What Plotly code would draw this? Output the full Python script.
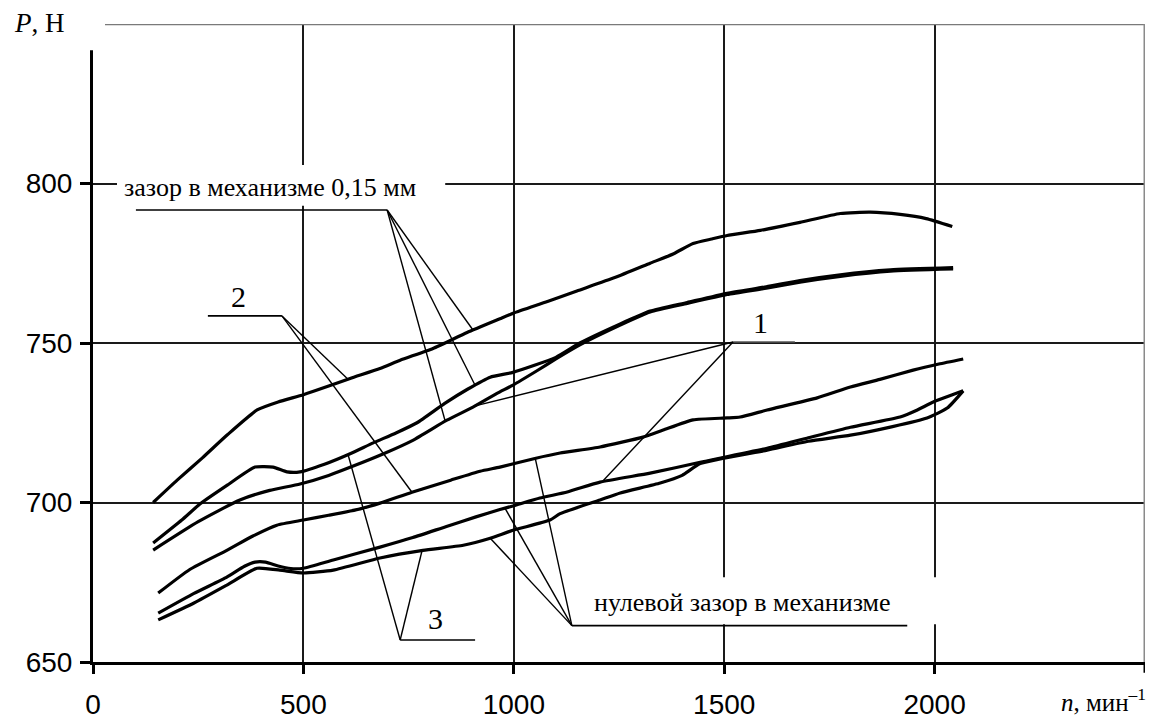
import numpy as np
import plotly.graph_objects as go

# --- Data: force P (N) versus speed n (min^-1) ---
# gap in mechanism 0.15 mm
A_n = [143, 200, 260, 320, 390, 440, 500, 560, 611, 682, 730, 808, 889, 967, 1000,
       1080, 1150, 1240, 1324, 1380, 1426, 1470, 1507, 1586, 1680, 1776, 1847, 1918, 1980, 2042]
A_P = [700, 707, 714, 721.3, 729, 731.5, 733.8, 736.5, 738.9, 742, 744.6, 748.3, 753.3, 757.6, 759.4,
       763, 766.3, 770.5, 775, 778, 781.2, 782.6, 783.7, 785.3, 787.8, 790.6, 791, 790.3, 789, 786.5]

B1_n = [143, 211, 254, 320, 385, 428, 461, 492, 550, 611, 666, 720, 770, 835, 890, 944, 998,
        1100, 1157, 1253, 1324, 1412, 1507, 1600, 1680, 1776, 1895, 2044]
B1_P = [687.3, 694.5, 699.5, 705.5, 711.1, 711.1, 709.6, 709.6, 712, 715.3, 718.7, 721.8, 725, 731, 735.5, 739.3, 740.8,
        745.5, 750, 756, 760, 762.7, 765.6, 767.6, 769.6, 771.4, 772.9, 773.6]

B2_n = [143, 250, 349, 420, 492, 560, 620, 689, 760, 841, 903, 960, 998, 1055, 1100, 1157,
        1253, 1324, 1412, 1507, 1600, 1680, 1776, 1895, 2044]
B2_P = [685.1, 694, 700.8, 703.8, 705.8, 708.5, 711.5, 715.2, 719.5, 725.8, 729.9, 734.2, 736.8, 741.3, 745, 749.4,
        755.6, 759.7, 762.4, 765.2, 767.2, 769.1, 770.9, 772.5, 773.2]

# zero gap in mechanism
C_n = [155, 230, 318, 380, 437, 500, 560, 635, 682, 758, 850, 920, 967, 1050, 1110, 1205, 1307,
       1355, 1426, 1507, 1538, 1602, 1721, 1800, 1870, 1949, 2010, 2068]
C_P = [671.6, 679, 685, 689.5, 692.9, 694.5, 696, 698, 699.8, 703.2, 707, 709.8, 711.1, 713.8, 715.5, 717.4, 720.5,
       722.7, 725.9, 726.5, 726.8, 729, 732.8, 736.2, 738.6, 741.5, 743.4, 745]

D1_n = [155, 240, 318, 360, 385, 410, 440, 470, 500, 571, 682, 760, 840, 910, 967, 1000, 1062,
        1127, 1205, 1324, 1443, 1602, 1700, 1800, 1918, 1959, 1997, 2068]
D1_P = [665.3, 671.5, 676.6, 680, 681.3, 681.3, 680.1, 679.3, 679.4, 682, 686, 689, 692.5, 695.5, 697.8, 699, 701.4,
        703.3, 706.4, 709.2, 712.6, 717, 720.3, 723.6, 726.8, 729, 731.5, 735]

D2_n = [155, 240, 318, 390, 444, 500, 571, 682, 784, 880, 944, 998, 1086, 1110, 1205, 1253,
        1348, 1400, 1443, 1602, 1700, 1800, 1900, 1982, 2030, 2068]
D2_P = [663.2, 668.5, 674.1, 679.4, 678.8, 677.9, 678.8, 682.6, 685, 686.6, 688.8, 691.3, 694.5, 696.5, 700.8, 703,
        706.1, 708.5, 712.2, 716.4, 719.2, 721.1, 723.8, 726.5, 729.6, 735]

X_TICKS = [0, 500, 1000, 1500, 2000]
X_TICKTEXT = ["0", "500", "1000", "1500", "2000"]
X_MAX = 2500
Y_TICKS = [650, 700, 750, 800]
Y_TICKTEXT = ["650", "700", "750", "800"]
Y_MAX = 850

curves = {
    "A": (A_n, A_P), "B1": (B1_n, B1_P), "B2": (B2_n, B2_P),
    "C": (C_n, C_P), "D1": (D1_n, D1_P), "D2": (D2_n, D2_P),
}


def on_curve(name, n):
    xs, ys = curves[name]
    return float(np.interp(n, xs, ys))


fig = go.Figure()
for name, (xs, ys) in curves.items():
    fig.add_trace(go.Scatter(
        x=xs, y=ys, mode="lines", name=name,
        line=dict(color="black", width=3.2, shape="spline", smoothing=0.5),
        hoverinfo="skip",
    ))

SERIF = "Liberation Serif, Times New Roman, serif"
shapes = []

# white backgrounds behind the two captions
shapes.append(dict(type="rect", xref="x", yref="y", x0=57, x1=837, y0=793.0, y1=805.8,
                   fillcolor="white", line=dict(width=0), layer="above"))
shapes.append(dict(type="rect", xref="x", yref="y", x0=1110, x1=2020, y0=661.8, y1=676.6,
                   fillcolor="white", line=dict(width=0), layer="above"))
# frame: gray top and right edges, cut corner at the top-left
shapes.append(dict(type="line", xref="x", yref="y", x0=28, x1=X_MAX, y0=Y_MAX, y1=Y_MAX,
                   line=dict(color="#7a7a7a", width=2.5), layer="above"))
shapes.append(dict(type="line", xref="x", yref="y", x0=X_MAX, x1=X_MAX, y0=650, y1=Y_MAX,
                   line=dict(color="#8a8a8a", width=3), layer="above"))
shapes.append(dict(type="rect", xref="paper", yref="paper", x0=-0.1, x1=0.0114, y0=0.959, y1=1.1,
                   fillcolor="white", line=dict(width=0), layer="above"))
# tick mark at the right end of the n axis
shapes.append(dict(type="line", xref="x", yref="paper", x0=X_MAX, x1=X_MAX, y0=0, y1=-0.017,
                   line=dict(color="black", width=3), layer="above"))


def leader(apex, x_end, targets, color="black"):
    ax, ay = apex
    shapes.append(dict(type="line", xref="x", yref="y", x0=ax, x1=x_end, y0=ay, y1=ay,
                       line=dict(color=color, width=1.6), layer="above"))
    for name, n in targets:
        shapes.append(dict(type="line", xref="x", yref="y", x0=ax, y0=ay,
                           x1=n, y1=on_curve(name, n),
                           line=dict(color="black", width=1.4), layer="above"))


leader((699, 791.7), 102, [("A", 903), ("B1", 908), ("B2", 837)])
leader((449, 758.5), 273, [("A", 606), ("C", 758)])
leader((1521, 750.3), 1668, [("B2", 908), ("D1", 1210)], color="#555555")
leader((730, 656.9), 908, [("B1", 606), ("D2", 782)])
leader((1138, 661.4), 1935, [("D2", 944), ("D1", 979), ("C", 1051)])

annotations = [
    dict(text="зазор в механизме 0,15 мм", x=421, y=798.6, xref="x", yref="y",
         showarrow=False, font=dict(family=SERIF, size=26, color="black")),
    dict(text="нулевой зазор в механизме", x=1543, y=668.8, xref="x", yref="y",
         showarrow=False, font=dict(family=SERIF, size=26, color="black")),
    dict(text="2", x=345, y=764.7, xref="x", yref="y", showarrow=False,
         font=dict(family=SERIF, size=30, color="black")),
    dict(text="1", x=1587, y=756.3, xref="x", yref="y", showarrow=False,
         font=dict(family=SERIF, size=30, color="black")),
    dict(text="3", x=815, y=663.5, xref="x", yref="y", showarrow=False,
         font=dict(family=SERIF, size=30, color="black")),
    dict(text="<i>P</i>, Н", x=-0.077, y=1.002, xref="paper", yref="paper",
         xanchor="left", yanchor="middle", showarrow=False,
         font=dict(family=SERIF, size=27, color="black")),
    dict(text="<i>n</i>, мин<sup>–1</sup>", x=1.003, y=-0.0885, xref="paper", yref="paper",
         xanchor="right", yanchor="bottom", showarrow=False,
         font=dict(family=SERIF, size=25, color="black")),
]

fig.update_layout(
    width=1150, height=720,
    margin=dict(l=93, r=5, t=24, b=58, autoexpand=False),
    paper_bgcolor="white", plot_bgcolor="white",
    showlegend=False, hovermode=False,
    shapes=shapes, annotations=annotations,
    xaxis=dict(range=[0, X_MAX], tickvals=X_TICKS, ticktext=X_TICKTEXT,
               showgrid=True, gridcolor="#1a1a1a", gridwidth=1.5,
               showline=True, linecolor="black", linewidth=3,
               ticks="outside", ticklen=9, tickwidth=3, tickcolor="black",
               ticklabelstandoff=6, automargin=False,
               tickfont=dict(family="Liberation Sans, Arial, sans-serif", size=28, color="black"),
               zeroline=False, fixedrange=True),
    yaxis=dict(range=[650, Y_MAX], tickvals=Y_TICKS, ticktext=Y_TICKTEXT,
               showgrid=True, gridcolor="#1a1a1a", gridwidth=1.5,
               showline=True, linecolor="black", linewidth=3,
               ticks="outside", ticklen=10, tickwidth=3, tickcolor="black",
               ticklabelstandoff=2, automargin=False,
               tickfont=dict(family="Liberation Sans, Arial, sans-serif", size=28, color="black"),
               zeroline=False, fixedrange=True),
)

fig.write_html("out.html")
